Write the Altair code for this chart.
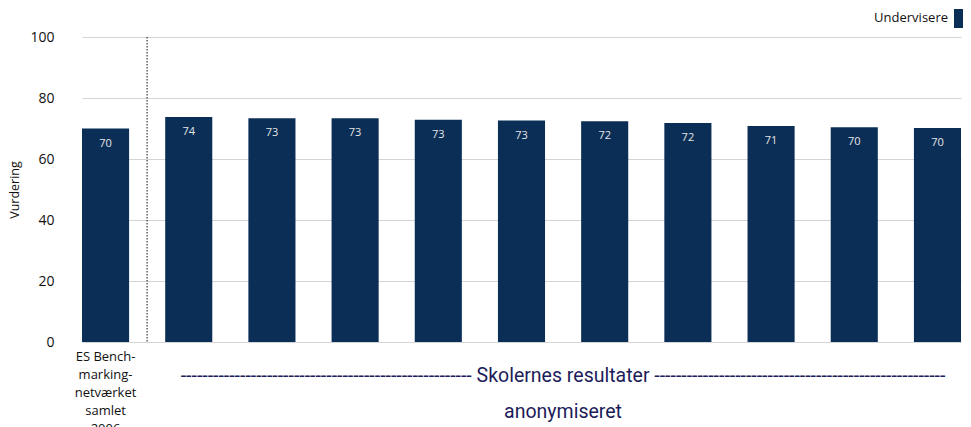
import altair as alt
import pandas as pd

categories = ["ES Bench-marking-netværket samlet 2006", "Skole 1", "Skole 2", "Skole 3", "Skole 4",
              "Skole 5", "Skole 6", "Skole 7", "Skole 8", "Skole 9", "Skole 10"]
values = [70.0, 73.8, 73.4, 73.4, 72.9, 72.6, 72.4, 71.8, 70.8, 70.4, 70.2]
value_labels = ["70", "74", "73", "73", "73", "73", "72", "72", "71", "70", "70"]
first_label = ["ES Bench-", "marking-", "netværket", "samlet", "2006"]
series_name = "Undervisere"
group_text = "-" * 54 + " Skolernes resultater " + "-" * 54
group_text2 = "anonymiseret"

W, H = 900, 305
NAVY = "#0b2e56"

df = pd.DataFrame({"cat": categories, "v": values, "lab": value_labels})

label_expr = "datum.value == '%s' ? %s : ''" % (categories[0], str(first_label))

x = alt.X("cat:N", sort=categories,
          scale=alt.Scale(range=[19, 898], paddingInner=0.434, paddingOuter=0),
          axis=alt.Axis(title=None, labelAngle=0, domain=False, ticks=False, grid=False,
                        labelExpr=label_expr, labelFontSize=13, labelLineHeight=18.2,
                        labelPadding=14, labelColor="#111", labelFont="Open Sans",
                        labelBaseline="middle"))
y = alt.Y("v:Q", scale=alt.Scale(domain=[0, 100], nice=False),
          axis=alt.Axis(title="Vurdering", values=[0, 20, 40, 60, 80, 100], domain=False,
                        ticks=False, grid=True, gridColor="#d4d4d4", labelFontSize=14,
                        labelColor="#111", labelPadding=9, labelFont="Open Sans",
                        titleFont="Open Sans", titleFontSize=12.5, titleFontWeight="normal",
                        titleColor="#111", titlePadding=8))

base = alt.Chart(df)
bars = base.mark_bar(color=NAVY).encode(x=x, y=y)
texts = base.mark_text(color="#e6e6e6", fontSize=11, font="Open Sans", dy=15,
                       baseline="middle").encode(x=x, y="v:Q", text="lab:N")

sep = alt.Chart(pd.DataFrame({"cat": [categories[0]], "top": [100], "bot": [0]})).mark_rule(
    color="#111", strokeDash=[1.5, 1.5], strokeWidth=1, xOffset=18
).encode(x=alt.X("cat:N", sort=categories, bandPosition=1), y="top:Q", y2="bot:Q")

grp = alt.Chart(pd.DataFrame({"cat": [categories[5]], "t": [group_text], "t2": [group_text2]}))
grp1 = grp.mark_text(color="#1c1c5a", fontSize=19.5, font="Roboto",
                     baseline="middle", xOffset=18, y=H + 34).encode(
    x=alt.X("cat:N", sort=categories, bandPosition=1), text="t:N")
grp2 = grp.mark_text(color="#1c1c5a", fontSize=19.5, font="Roboto",
                     baseline="middle", xOffset=18, y=H + 70).encode(
    x=alt.X("cat:N", sort=categories, bandPosition=1), text="t2:N")

leg = alt.Chart(pd.DataFrame({"s": [series_name]}))
leg_text = leg.mark_text(align="right", baseline="middle", fontSize=13, font="Open Sans",
                         color="#111", x=W - 15, y=-19).encode(text="s:N")
leg_box = leg.mark_rect(color=NAVY).encode(x=alt.value(W - 9), x2=alt.value(W + 5),
                                           y=alt.value(-28), y2=alt.value(-9))

chart = alt.layer(bars, texts, sep, grp1, grp2, leg_text, leg_box).properties(
    width=W, height=H,
    autosize=alt.AutoSizeParams(type="none"),
    padding={"left": 55, "top": 29, "right": 0, "bottom": 85},
).configure_view(stroke=None)

chart.save("out.html", embed_options={"renderer": "svg", "actions": False})
